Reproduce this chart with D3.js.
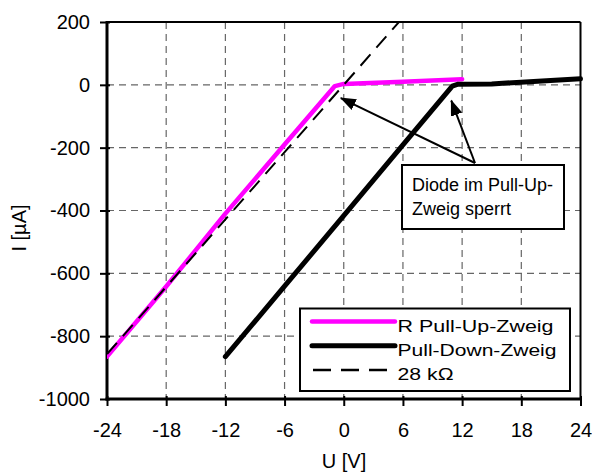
<!DOCTYPE html>
<html>
<head>
<meta charset="utf-8">
<script src="https://cdn.jsdelivr.net/npm/d3@7/dist/d3.min.js"></script>
<style>
  html, body { margin: 0; padding: 0; background: #fff; }
  svg { display: block; font-family: "Liberation Sans", Arial, sans-serif; }
</style>
</head>
<body>
<svg id="chart" width="592" height="473"></svg>
<script>
// Measured I(U) curves of the two branches
const uPullUp   = [-24, -18, -12, -6, -0.9, 0, 6, 12];
const iPullUp   = [-865, -642, -410, -190, -4, 3, 10, 18];
const uPullDown = [-12, -6, 0, 6, 11, 11.6, 15, 24];
const iPullDown = [-865, -641, -416, -191, -4, 2, 3, 19];
// Ideal resistor line, 28 kOhm (I in µA = U / 28 kΩ * 1e6)
const rOhm = 28000;
const uRef = [-24, 24];

const xTicks = [-24, -18, -12, -6, 0, 6, 12, 18, 24];
const yTicks = [200, 0, -200, -400, -600, -800, -1000];

const legendLabels = ["R Pull-Up-Zweig", "Pull-Down-Zweig", "28 k\u03A9"];
const noteLines = ["Diode im Pull-Up-", "Zweig sperrt"];
// points the note arrows aim at (U, I)
const noteTargets = [[-0.3, -42], [10.9, -50]];

const svg = d3.select("#chart");
const pLeft = 107, pRight = 580.5, pTop = 22, pBottom = 399;

const x = d3.scaleLinear().domain([-24, 24]).range([pLeft, pRight]);
const y = d3.scaleLinear().domain([-1000, 200]).range([pBottom, pTop]);
const plain = d => String(d);

const defs = svg.append("defs");
defs.append("clipPath").attr("id", "plotClip")
  .append("rect").attr("x", pLeft).attr("y", pTop)
  .attr("width", pRight - pLeft).attr("height", pBottom - pTop);

// grid
const grid = svg.append("g").attr("stroke", "#666").attr("stroke-width", 1.2)
  .attr("stroke-dasharray", "7,5");
grid.selectAll("line.v").data(xTicks.slice(1, -1)).join("line").attr("class", "v")
  .attr("x1", d => x(d)).attr("x2", d => x(d))
  .attr("y1", pTop).attr("y2", pBottom);
grid.selectAll("line.h").data(yTicks.slice(1, -1)).join("line").attr("class", "h")
  .attr("x1", pLeft).attr("x2", pRight)
  .attr("y1", d => y(d)).attr("y2", d => y(d));

// axes (ticks cross the frame)
const yAxis = svg.append("g").attr("transform", `translate(${pLeft + 3},0)`)
  .call(d3.axisLeft(y).tickValues(yTicks).tickFormat(plain)
    .tickSizeInner(10).tickSizeOuter(0).tickPadding(10));
const xAxis = svg.append("g").attr("transform", `translate(0,${pBottom - 3})`)
  .call(d3.axisBottom(x).tickValues(xTicks).tickFormat(plain)
    .tickSizeInner(10).tickSizeOuter(0).tickPadding(16.5));
[yAxis, xAxis].forEach(a => {
  a.select(".domain").remove();
  a.selectAll(".tick line").attr("stroke", "#000").attr("stroke-width", 2);
  a.selectAll(".tick text").attr("fill", "#000")
    .style("font-size", "20px").style("font-family", "Liberation Sans, Arial, sans-serif");
});

// frame
svg.append("line").attr("x1", pLeft).attr("x2", pRight).attr("y1", pTop).attr("y2", pTop)
  .attr("stroke", "#000").attr("stroke-width", 2);
svg.append("line").attr("x1", pRight).attr("x2", pRight).attr("y1", pTop).attr("y2", pBottom)
  .attr("stroke", "#000").attr("stroke-width", 2);
svg.append("line").attr("x1", pLeft).attr("x2", pLeft).attr("y1", pTop - 1).attr("y2", pBottom + 1.5)
  .attr("stroke", "#000").attr("stroke-width", 3);
svg.append("line").attr("x1", pLeft - 1.5).attr("x2", pRight + 1).attr("y1", pBottom).attr("y2", pBottom)
  .attr("stroke", "#000").attr("stroke-width", 3);

// curves
const line = d3.line().x(d => x(d[0])).y(d => y(d[1]));
const plot = svg.append("g").attr("clip-path", "url(#plotClip)");

plot.append("path")
  .datum(uPullUp.map((u, i) => [u, iPullUp[i]]))
  .attr("d", line).attr("fill", "none").attr("stroke", "#FF00FF")
  .attr("stroke-width", 4.5).attr("stroke-linecap", "round").attr("stroke-linejoin", "round");

plot.append("path")
  .datum(uRef.map(u => [u, u / rOhm * 1e6]))
  .attr("d", line).attr("fill", "none").attr("stroke", "#000")
  .attr("stroke-width", 2).attr("stroke-dasharray", "15,9");

svg.append("path")
  .datum(uPullDown.map((u, i) => [u, iPullDown[i]]))
  .attr("d", line).attr("fill", "none").attr("stroke", "#000")
  .attr("stroke-width", 5).attr("stroke-linecap", "round").attr("stroke-linejoin", "round");

// annotation with arrows
defs.append("marker").attr("id", "arrowHead")
  .attr("markerUnits", "userSpaceOnUse").attr("markerWidth", 16).attr("markerHeight", 14)
  .attr("viewBox", "0 -7 16 14").attr("refX", 15).attr("refY", 0).attr("orient", "auto")
  .append("path").attr("d", "M0,-6L16,0L0,6Z").attr("fill", "#000");

const noteOrigin = [475, 163];
svg.selectAll("line.arrow").data(noteTargets).join("line").attr("class", "arrow")
  .attr("x1", noteOrigin[0]).attr("y1", noteOrigin[1])
  .attr("x2", d => x(d[0])).attr("y2", d => y(d[1]))
  .attr("stroke", "#000").attr("stroke-width", 2)
  .attr("marker-end", "url(#arrowHead)");

svg.append("rect").attr("x", 402).attr("y", 165).attr("width", 162).attr("height", 64)
  .attr("fill", "#fff").attr("stroke", "#000").attr("stroke-width", 2);
svg.selectAll("text.note").data(noteLines).join("text").attr("class", "note")
  .attr("x", 412).attr("y", (d, i) => 191 + i * 23.5)
  .style("font-size", "18px").attr("fill", "#000").text(d => d);

// legend
const lg = svg.append("g");
lg.append("rect").attr("x", 300).attr("y", 308.5).attr("width", 270).attr("height", 82.5)
  .attr("fill", "#fff").attr("stroke", "#000").attr("stroke-width", 2);
const legendStyles = [
  { stroke: "#FF00FF", w: 4.5, dash: null, len: 156 },
  { stroke: "#000", w: 5, dash: null, len: 159 },
  { stroke: "#000", w: 2.5, dash: "18,10", len: 56 }
];
legendLabels.forEach((lab, i) => {
  const yy = 321.5 + i * 24.3;
  const s = legendStyles[i];
  const ln = lg.append("line")
    .attr("x1", s.dash ? 313 : 312).attr("x2", s.dash ? 387 : 395)
    .attr("y1", yy).attr("y2", yy)
    .attr("stroke", s.stroke).attr("stroke-width", s.w)
    .attr("stroke-linecap", s.dash ? "butt" : "round");
  if (s.dash) ln.attr("stroke-dasharray", s.dash);
  lg.append("text").attr("x", 397.5).attr("y", yy + 10)
    .style("font-size", "17px").attr("fill", "#000")
    .attr("textLength", s.len).attr("lengthAdjust", "spacingAndGlyphs")
    .text(lab);
});

// axis titles
svg.append("text").attr("x", 344).attr("y", 468).attr("text-anchor", "middle")
  .style("font-size", "20px").text("U [V]");
svg.append("text").attr("transform", "translate(26,228) rotate(-90)")
  .attr("text-anchor", "middle").style("font-size", "20px").text("I [\u00B5A]");
</script>
</body>
</html>
